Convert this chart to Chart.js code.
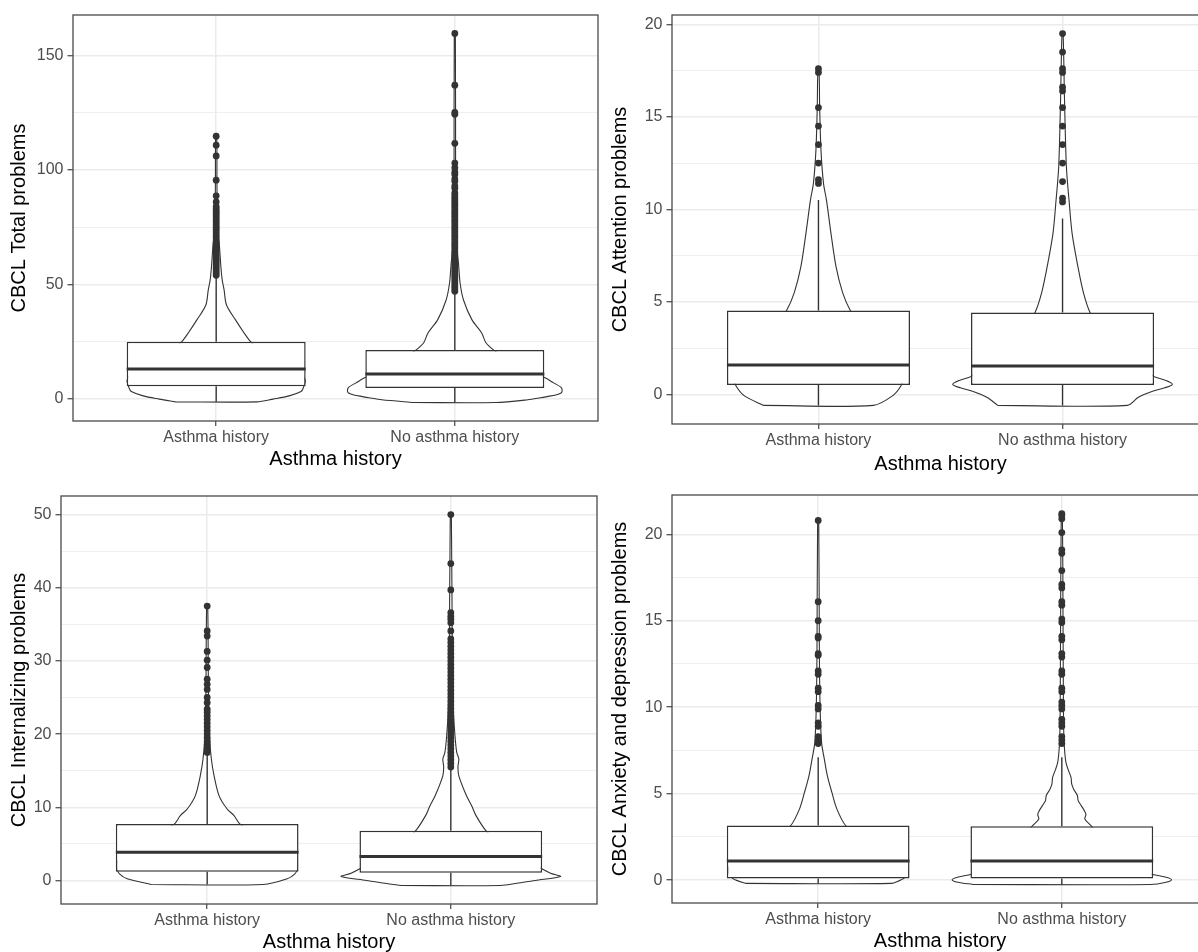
<!DOCTYPE html>
<html>
<head>
<meta charset="utf-8">
<script src="https://cdn.jsdelivr.net/npm/chart.js@4"></script>
<style>
  html, body { margin: 0; padding: 0; background: #fff; overflow: hidden; }
  #wrap { position: relative; width: 1198px; height: 952px; overflow: hidden; background: #fff; }
  canvas { position: absolute; }
</style>
</head>
<body>
<div id="wrap">
  <canvas id="c1" width="600" height="476" style="left:0;top:0"></canvas>
  <canvas id="c2" width="612" height="476" style="left:600px;top:0"></canvas>
  <canvas id="c3" width="600" height="476" style="left:0;top:476px"></canvas>
  <canvas id="c4" width="612" height="476" style="left:600px;top:476px"></canvas>
</div>
<script>
// ---------------- DATA ----------------
const categories = ['Asthma history', 'No asthma history'];
const xAxisTitle = 'Asthma history';

// Panel 1: CBCL Total problems
const totalTitle = 'CBCL Total problems';
const totalTicks = [0, 50, 100, 150];
const totalQ1 = [5.5, 4.7];
const totalMedian = [13.0, 10.9];
const totalQ3 = [25.0, 21.4];
const totalWhiskerLow = [-1.3, -1.6];
const totalWhiskerHigh = [53, 46];
const totalOutliersAsthma = [54, 55, 56, 57, 58, 59, 60, 61, 62, 63, 64, 65, 66, 67, 68, 69, 70, 71, 72, 73, 74, 75, 76, 77, 78, 79, 80, 81, 82, 83, 84, 86, 88.7, 95.5, 106.1, 110.8, 114.7];
const totalOutliersNoAsthma = [47, 48, 49, 50, 51, 52, 53, 54, 55, 56, 57, 58, 59, 60, 61, 62, 63, 64, 65, 66, 67, 68, 69, 70, 71, 72, 73, 74, 75, 76, 77, 78, 79, 80, 81, 82, 83, 84, 85, 86, 87, 88, 89, 90, 92, 93, 95, 96, 98, 99, 101, 103, 111.6, 124.3, 125.1, 137, 159.6];
const totalViolinYAsthma = [-1.3, -0.1, 1.3, 3.2, 4.65, 6, 8, 10, 13, 16, 20, 23, 25, 28.8, 34.5, 41, 47.5, 52, 57.6, 68, 72.4, 80, 95, 114.7];
const totalViolinWAsthma = [0.38, 0.53, 0.68, 0.79, 0.81, 0.82, 0.83, 0.81, 0.74, 0.63, 0.48, 0.37, 0.32, 0.26, 0.18, 0.096, 0.074, 0.056, 0.044, 0.028, 0.014, 0.010, 0.007, 0.005];
const totalViolinYNoAsthma = [-1.6, -0.4, 0.5, 1.0, 1.7, 2.6, 3.5, 5, 7, 9.2, 11, 14, 18, 21.4, 24.5, 28.8, 34.5, 43.2, 50.6, 59.3, 66.3, 80, 100, 159.6];
const totalViolinWNoAsthma = [0.38, 0.68, 0.80, 0.86, 0.94, 0.99, 1.0, 0.99, 0.92, 0.84, 0.74, 0.61, 0.47, 0.36, 0.29, 0.25, 0.16, 0.081, 0.049, 0.034, 0.019, 0.011, 0.007, 0.005];

// Panel 2: CBCL Attention problems
const attTitle = 'CBCL Attention problems';
const attTicks = [0, 5, 10, 15, 20];
const attQ1 = [0.5, 0.5];
const attMedian = [1.58, 1.53];
const attQ3 = [4.53, 4.42];
const attWhiskerLow = [-0.6, -0.6];
const attWhiskerHigh = [10.5, 9.5];
const attOutliersAsthma = [11.4, 11.6, 12.5, 13.5, 14.5, 15.5, 17.4, 17.6];
const attOutliersNoAsthma = [10.4, 10.6, 11.5, 12.5, 13.5, 14.5, 15.5, 16.4, 16.6, 17.4, 17.6, 18.5, 19.5];
const attViolinYAsthma = [-0.6, -0.1, 0.45, 1.0, 2.0, 3.0, 4.0, 4.53, 5.5, 6.9, 8.7, 10.5, 11.4, 13.2, 15.5, 17.6];
const attViolinWAsthma = [0.50, 0.67, 0.75, 0.78, 0.71, 0.53, 0.36, 0.29, 0.22, 0.16, 0.114, 0.073, 0.046, 0.023, 0.011, 0.005];
const attViolinYNoAsthma = [-0.6, -0.16, 0.16, 0.35, 0.54, 0.75, 0.97, 1.5, 2.2, 3.2, 4.0, 4.42, 5.5, 6.9, 8.7, 10.5, 12.3, 15.9, 19.5];
const attViolinWNoAsthma = [0.59, 0.69, 0.82, 0.93, 1.0, 0.94, 0.83, 0.72, 0.58, 0.42, 0.30, 0.25, 0.19, 0.14, 0.087, 0.059, 0.035, 0.018, 0.005];

// Panel 3: CBCL Internalizing problems
const intTitle = 'CBCL Internalizing problems';
const intTicks = [0, 10, 20, 30, 40, 50];
const intQ1 = [1.2, 1.05];
const intMedian = [3.85, 3.27];
const intQ3 = [7.7, 6.81];
const intWhiskerLow = [-0.54, -0.68];
const intWhiskerHigh = [17.3, 15.3];
const intOutliersAsthma = [17.5, 18, 18.5, 19, 19.5, 20, 20.5, 21, 21.5, 22, 22.5, 23, 23.4, 24.3, 25, 26.1, 26.8, 27.5, 29.1, 30.1, 31.3, 33.4, 34.1, 37.5];
const intOutliersNoAsthma = [15.5, 16, 16.5, 17, 17.5, 18, 18.5, 19, 19.5, 20, 20.5, 21, 21.5, 22, 22.5, 23, 23.5, 24, 24.5, 25, 25.5, 26, 26.5, 27, 27.5, 28, 28.5, 29, 29.5, 30, 30.5, 31, 31.5, 32, 32.5, 33, 34.1, 35.2, 35.7, 36.1, 36.6, 39.7, 43.3, 50.0];
const intViolinYAsthma = [-0.54, 0.23, 0.91, 1.5, 2.5, 3.5, 5, 6.5, 7.7, 8.86, 9.8, 11.6, 14.3, 16.6, 19.75, 25, 37.5];
const intViolinWAsthma = [0.51, 0.73, 0.80, 0.82, 0.82, 0.77, 0.63, 0.44, 0.30, 0.245, 0.18, 0.108, 0.063, 0.038, 0.021, 0.012, 0.005];
const intViolinYNoAsthma = [-0.68, -0.35, 0.0, 0.54, 1.0, 1.59, 2.5, 4.0, 5.5, 6.81, 8.86, 10.2, 11.6, 14.3, 15.5, 16.6, 17.5, 19.75, 23.4, 30, 50];
const intViolinWNoAsthma = [0.45, 0.62, 0.77, 1.0, 0.91, 0.83, 0.74, 0.58, 0.42, 0.32, 0.23, 0.19, 0.142, 0.073, 0.065, 0.073, 0.054, 0.038, 0.023, 0.014, 0.005];

// Panel 4: CBCL Anxiety and depression problems
const anxTitle = 'CBCL Anxiety and depression problems';
const anxTicks = [0, 5, 10, 15, 20];
const anxQ1 = [0.1, 0.1];
const anxMedian = [1.11, 1.11];
const anxQ3 = [3.16, 3.12];
const anxWhiskerLow = [-0.19, -0.25];
const anxWhiskerHigh = [7.1, 7.1];
const anxOutliersAsthma = [7.9, 8.1, 8.3, 8.9, 9.1, 9.9, 10.1, 10.9, 11.1, 11.9, 12.1, 13, 13.1, 14, 14.1, 15, 16.1, 20.8];
const anxOutliersNoAsthma = [7.9, 8.1, 8.3, 8.9, 9.1, 9.3, 9.9, 10.1, 10.3, 10.9, 11.1, 11.9, 12.1, 12.9, 13.1, 13.9, 14.1, 14.9, 15.1, 15.9, 16.1, 16.9, 17.1, 17.9, 18.9, 19.1, 20.1, 20.9, 21.1, 21.2];
const anxViolinYAsthma = [-0.19, 0.0, 0.1, 0.5, 1.0, 1.5, 2.2, 2.8, 3.16, 4.12, 5.07, 6.03, 7.0, 7.95, 9.86, 13, 20.8];
const anxViolinWAsthma = [0.66, 0.75, 0.78, 0.82, 0.79, 0.68, 0.50, 0.35, 0.25, 0.17, 0.125, 0.084, 0.056, 0.031, 0.018, 0.011, 0.005];
const anxViolinYNoAsthma = [-0.25, -0.12, 0.02, 0.15, 0.3, 0.45, 0.8, 1.2, 2.0, 2.7, 3.12, 3.54, 3.8, 4.02, 4.31, 4.6, 4.89, 5.27, 5.56, 5.94, 6.42, 6.8, 7.37, 7.95, 9, 11, 15, 21.2];
const anxViolinWNoAsthma = [0.81, 0.95, 1.0, 0.96, 0.85, 0.75, 0.58, 0.51, 0.41, 0.33, 0.27, 0.21, 0.22, 0.205, 0.177, 0.149, 0.142, 0.107, 0.09, 0.084, 0.056, 0.038, 0.027, 0.021, 0.016, 0.014, 0.011, 0.005];

// ---------------- STYLE / LAYOUT ----------------
Chart.defaults.font.family = "'Liberation Sans', Arial, Helvetica, sans-serif";
Chart.defaults.animation = false;

const INK = '#333333';
const GRID = '#EBEBEB';
const VIOLIN_HALF = 0.45;   // max violin half-width (x units)
const BOX_HALF = 0.375;     // box half-width (x units)

const panelBorder = {
  id: 'panelBorder',
  afterDraw(chart) {
    const { ctx, chartArea: a } = chart;
    ctx.save();
    ctx.strokeStyle = '#4a4a4a';
    ctx.lineWidth = 1.3;
    ctx.strokeRect(a.left, a.top, a.right - a.left, a.bottom - a.top);
    ctx.restore();
  }
};

function buildPanel(canvasId, p, L) {
  // y range with ggplot-like 5% expansion of data range
  const allY = [].concat(p.violinY[0], p.violinY[1], p.outliers[0], p.outliers[1], p.wLow, p.wHigh);
  const dMin = Math.min(...allY), dMax = Math.max(...allY);
  const pad = (dMax - dMin) * 0.05;
  const yMin = dMin - pad, yMax = dMax + pad;

  const step = p.ticks[1] - p.ticks[0];
  const tickSet = new Set();
  p.ticks.forEach(v => { tickSet.add(v); tickSet.add(v - step / 2); tickSet.add(v + step / 2); });
  const allTicks = [...tickSet].filter(v => v >= yMin && v <= yMax).sort((a, b) => a - b);
  const isMajor = v => p.ticks.includes(v);

  const datasets = [];
  // violins
  for (let i = 0; i < 2; i++) {
    const c = i + 1, ys = p.violinY[i], ws = p.violinW[i];
    const pts = [];
    for (let k = 0; k < ys.length; k++) pts.push({ x: c - ws[k] * VIOLIN_HALF, y: ys[k] });
    for (let k = ys.length - 1; k >= 0; k--) pts.push({ x: c + ws[k] * VIOLIN_HALF, y: ys[k] });
    pts.push({ x: pts[0].x, y: pts[0].y });
    datasets.push({
      type: 'line', data: pts, order: 5, clip: false,
      borderColor: INK, borderWidth: 1.1, backgroundColor: '#ffffff',
      fill: 'shape', pointRadius: 0, tension: 0.3
    });
  }
  // whiskers
  const wh = [];
  for (let i = 0; i < 2; i++) {
    const c = i + 1;
    wh.push({ x: c, y: p.wLow[i] }, { x: c, y: p.q1[i] }, { x: c, y: null },
            { x: c, y: p.q3[i] }, { x: c, y: p.wHigh[i] }, { x: c, y: null });
  }
  datasets.push({ type: 'line', data: wh, order: 4, borderColor: INK, borderWidth: 1.4, pointRadius: 0, spanGaps: false, fill: false });
  // boxes
  datasets.push({
    type: 'bar', order: 3,
    data: [0, 1].map(i => ({ x: i + 1, y: [p.q1[i], p.q3[i]] })),
    backgroundColor: '#ffffff', borderColor: INK, borderWidth: 1.5, borderSkipped: false,
    barPercentage: BOX_HALF * 2, categoryPercentage: 1, grouped: false
  });
  // medians
  const med = [];
  for (let i = 0; i < 2; i++) {
    const c = i + 1;
    med.push({ x: c - BOX_HALF, y: p.median[i] }, { x: c + BOX_HALF, y: p.median[i] });
    if (i === 0) med.push({ x: 1.5, y: null });
  }
  datasets.push({ type: 'line', data: med, order: 2, borderColor: INK, borderWidth: 3, pointRadius: 0, spanGaps: false, fill: false });
  // outliers
  for (let i = 0; i < 2; i++) {
    datasets.push({
      type: 'scatter', order: 1,
      data: p.outliers[i].map(v => ({ x: i + 1, y: v })),
      pointRadius: 3.4, pointBackgroundColor: INK, pointBorderWidth: 0, pointHoverRadius: 3.4
    });
  }

  return new Chart(document.getElementById(canvasId), {
    type: 'line',
    data: { datasets },
    plugins: [panelBorder],
    options: {
      responsive: false,
      devicePixelRatio: 1,
      events: [],
      layout: { autoPadding: false, padding: { top: L.padTop, right: L.padRight, left: 0, bottom: 0 } },
      plugins: { legend: { display: false }, tooltip: { enabled: false }, title: { display: false } },
      scales: {
        x: {
          type: 'linear', min: 0.4, max: 2.6, offset: false, bounds: 'data',
          afterBuildTicks: s => { s.ticks = [{ value: 1 }, { value: 2 }]; },
          afterFit: s => { s.height = L.xHeight; },
          ticks: { autoSkip: false, maxRotation: 0, padding: 2, color: '#4D4D4D', font: { size: 16 },
                   callback: v => categories[Math.round(v) - 1] },
          grid: { offset: false, color: GRID, lineWidth: 1.5, tickLength: 5, tickColor: INK, tickWidth: 1.1 },
          border: { display: false },
          title: { display: true, text: xAxisTitle, color: '#000', font: { size: 20 }, padding: { top: 0, bottom: L.xTitlePad } }
        },
        y: {
          type: 'linear', min: yMin, max: yMax, bounds: 'data',
          afterBuildTicks: s => { s.ticks = allTicks.map(v => ({ value: v })); },
          afterFit: s => { s.width = L.yWidth; },
          ticks: { autoSkip: false, padding: 4, color: '#4D4D4D', font: { size: 16 },
                   callback: v => isMajor(v) ? String(v) : '' },
          grid: {
            color: GRID,
            lineWidth: ctx => (ctx.tick && !isMajor(ctx.tick.value)) ? 0.8 : 1.5,
            tickLength: 5.5,
            tickColor: ctx => (ctx.tick && isMajor(ctx.tick.value)) ? INK : 'rgba(0,0,0,0)',
            tickWidth: 1.1
          },
          border: { display: false },
          title: { display: true, text: p.title, color: '#000', font: { size: 20 }, padding: { top: L.yTitlePad, bottom: 0 } }
        }
      }
    }
  });
}

buildPanel('c1', {
  title: totalTitle, ticks: totalTicks, q1: totalQ1, median: totalMedian, q3: totalQ3,
  wLow: totalWhiskerLow, wHigh: totalWhiskerHigh,
  outliers: [totalOutliersAsthma, totalOutliersNoAsthma],
  violinY: [totalViolinYAsthma, totalViolinYNoAsthma], violinW: [totalViolinWAsthma, totalViolinWNoAsthma]
}, { padTop: 15, padRight: 2, yWidth: 73, xHeight: 55, yTitlePad: 7, xTitlePad: 5 });

buildPanel('c2', {
  title: attTitle, ticks: attTicks, q1: attQ1, median: attMedian, q3: attQ3,
  wLow: attWhiskerLow, wHigh: attWhiskerHigh,
  outliers: [attOutliersAsthma, attOutliersNoAsthma],
  violinY: [attViolinYAsthma, attViolinYNoAsthma], violinW: [attViolinWAsthma, attViolinWNoAsthma]
}, { padTop: 15, padRight: 3, yWidth: 72, xHeight: 52, yTitlePad: 8, xTitlePad: 0 });

buildPanel('c3', {
  title: intTitle, ticks: intTicks, q1: intQ1, median: intMedian, q3: intQ3,
  wLow: intWhiskerLow, wHigh: intWhiskerHigh,
  outliers: [intOutliersAsthma, intOutliersNoAsthma],
  violinY: [intViolinYAsthma, intViolinYNoAsthma], violinW: [intViolinWAsthma, intViolinWNoAsthma]
}, { padTop: 20, padRight: 3, yWidth: 61, xHeight: 48, yTitlePad: 7, xTitlePad: -2 });

buildPanel('c4', {
  title: anxTitle, ticks: anxTicks, q1: anxQ1, median: anxMedian, q3: anxQ3,
  wLow: anxWhiskerLow, wHigh: anxWhiskerHigh,
  outliers: [anxOutliersAsthma, anxOutliersNoAsthma],
  violinY: [anxViolinYAsthma, anxViolinYNoAsthma], violinW: [anxViolinWAsthma, anxViolinWNoAsthma]
}, { padTop: 19, padRight: 4, yWidth: 72, xHeight: 49, yTitlePad: 8, xTitlePad: -1 });
</script>
</body>
</html>
